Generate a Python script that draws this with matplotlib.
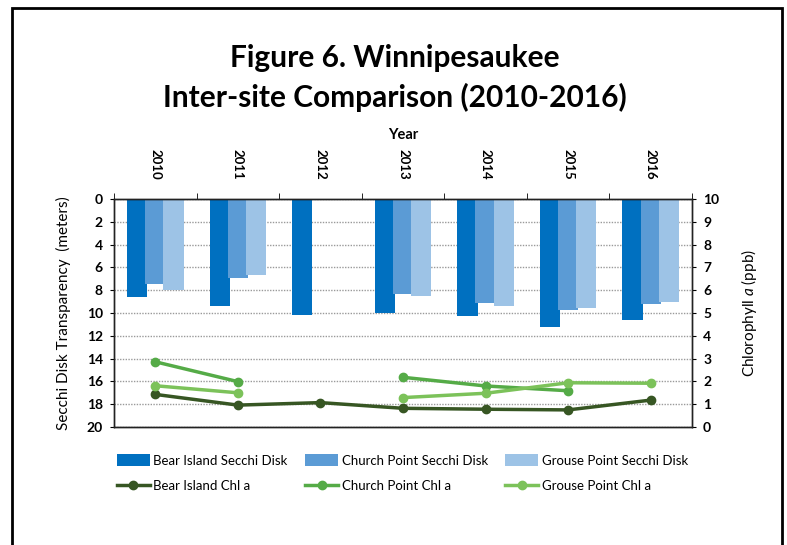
import numpy as np
import matplotlib
matplotlib.use("Agg")
import matplotlib.pyplot as plt
from matplotlib.patches import Rectangle

plt.rcParams['font.family'] = ['Lato', 'DejaVu Sans']
plt.rcParams['mathtext.fontset'] = 'custom'
plt.rcParams['mathtext.rm'] = 'Lato'
plt.rcParams['mathtext.it'] = 'Lato:italic'

years = ["2010", "2011", "2012", "2013", "2014", "2015", "2016"]

# Secchi disk transparency (meters)
bear_secchi = [8.6, 9.4, 10.2, 10.0, 10.3, 11.2, 10.6]
church_secchi = [7.5, 6.9, np.nan, 8.3, 9.1, 9.7, 9.2]
grouse_secchi = [8.0, 6.7, np.nan, 8.5, 9.4, 9.6, 9.0]

# Chlorophyll a (ppb)
bear_chl = [1.43, 0.96, 1.07, 0.82, 0.78, 0.75, 1.18]
church_chl = [2.86, 1.99, np.nan, 2.18, 1.80, 1.59, np.nan]
grouse_chl = [1.81, 1.50, np.nan, 1.29, 1.48, 1.94, 1.92]

bar_colors = ["#0070C0", "#5B9BD5", "#9DC3E6"]
line_colors = ["#375623", "#55AB47", "#7CC25A"]

fig = plt.figure(figsize=(7.87, 5.45), dpi=100)
ax = fig.add_axes([0.1449, 0.2165, 0.7344, 0.4184])

x = np.arange(len(years))
w = 0.245
b1 = ax.bar(x - 0.22, bear_secchi, w, color=bar_colors[0], zorder=2)
b2 = ax.bar(x, church_secchi, w, color=bar_colors[1], zorder=2)
b3 = ax.bar(x + 0.22, grouse_secchi, w, color=bar_colors[2], zorder=2)

ax.set_xlim(-0.5, len(years) - 0.5)
ax.set_ylim(20, 0)
ax.set_yticks(np.arange(0, 21, 2))
ax.yaxis.grid(True, linestyle=(0, (1, 1)), color="#9a9a9a", linewidth=1)
ax.set_axisbelow(True)

ax.xaxis.tick_top()
ax.xaxis.set_label_position("top")
ax.set_xticks(x)
ax.set_xticklabels(years, rotation=-90, fontweight="bold", fontsize=9.5)
ax.set_xticks(np.arange(-0.5, len(years)), minor=True)
ax.tick_params(axis="x", which="major", length=0, pad=14)
ax.tick_params(axis="x", which="minor", length=4, direction="out")
ax.set_xlabel("Year", fontsize=10.5, fontweight="bold", labelpad=7)

ax.tick_params(axis="y", length=3, labelsize=10, pad=5)
for t in ax.get_yticklabels():
    t.set_fontweight("bold")
ax.set_ylabel("Secchi Disk Transparency  (meters)", fontsize=11, labelpad=11)

ax2 = ax.twinx()
ax2.set_ylim(0, 10)
ax2.set_yticks(np.arange(0, 11, 1))
ax2.tick_params(axis="y", length=3, labelsize=10, pad=5)
for t in ax2.get_yticklabels():
    t.set_fontweight("bold")
ax2.set_ylabel(r"Chlorophyll $a$ (ppb)", fontsize=11, rotation=90, labelpad=14)

l1, = ax2.plot(x, bear_chl, "-o", color=line_colors[0], lw=2.5, ms=6)
l2, = ax2.plot(x, church_chl, "-o", color=line_colors[1], lw=2.5, ms=6)
l3, = ax2.plot(x, grouse_chl, "-o", color=line_colors[2], lw=2.5, ms=6)

for a in (ax, ax2):
    for s in a.spines.values():
        s.set_color("#222222")
        s.set_linewidth(1)

handles = [b1, l1, b2, l2, b3, l3]
labels = ["Bear Island Secchi Disk", "Bear Island Chl a",
          "Church Point Secchi Disk", "Church Point Chl a",
          "Grouse Point Secchi Disk", "Grouse Point Chl a"]
fig.legend(handles, labels, ncol=3, loc="upper left",
           bbox_to_anchor=(0.133, 0.188), frameon=False, fontsize=9.5,
           handlelength=2.5, handletextpad=0.3, columnspacing=1.3,
           labelspacing=1.0, handleheight=1.0)

fig.text(0.502, 0.893, "Figure 6. Winnipesaukee", ha="center", va="center",
         fontsize=21.5, fontweight="bold")
fig.text(0.502, 0.822, "Inter-site Comparison (2010-2016)", ha="center",
         va="center", fontsize=21.5, fontweight="bold")

fig.patches.append(Rectangle((12 / 787, -0.1), 770 / 787, 1.1 - 8 / 545,
                             transform=fig.transFigure, fill=False,
                             edgecolor="black", linewidth=2))

fig.savefig("out.png", dpi=100)
